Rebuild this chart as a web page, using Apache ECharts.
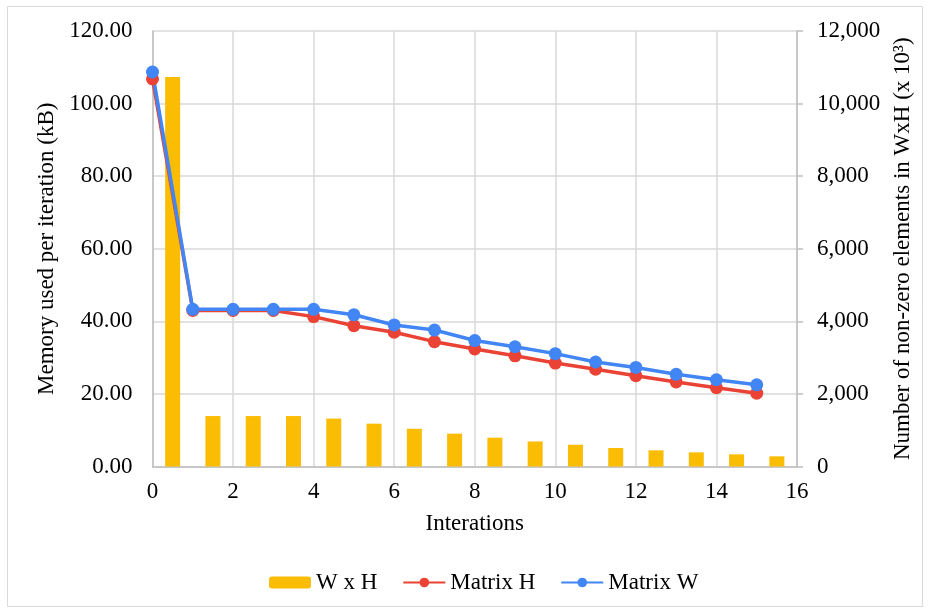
<!DOCTYPE html>
<html><head><meta charset="utf-8">
<script src="https://cdn.jsdelivr.net/npm/echarts@6/dist/echarts.min.js"></script>
<style>html,body{margin:0;padding:0;background:#fff}#c{width:930px;height:615px}</style>
</head><body><div id="c"></div>
<script>
const barX = [0.5,1.5,2.5,3.5,4.5,5.5,6.5,7.5,8.5,9.5,10.5,11.5,12.5,13.5,14.5,15.5];
const wxh = [10730,1390,1390,1390,1320,1180,1040,905,795,690,600,510,445,390,335,280];
const iterations = [0,1,2,3,4,5,6,7,8,9,10,11,12,13,14,15];
const matrixH = [106.8,43.0,43.0,43.0,41.3,38.8,37.0,34.4,32.4,30.5,28.5,26.8,25.0,23.3,21.7,20.2];
const matrixW = [108.7,43.3,43.3,43.3,43.3,41.8,39.0,37.6,34.7,33.0,31.1,28.8,27.3,25.4,23.9,22.5];

const font = 'Liberation Serif';
const fs = 23;
const chart = echarts.init(document.getElementById('c'));
chart.setOption({
  animation: false,
  textStyle: {fontFamily: font},
  graphic: [{type:'rect', shape:{x:7.5,y:6.5,width:915,height:600}, style:{fill:null, stroke:'#d9d9d9', lineWidth:1}, silent:true}],
  grid: {left:152.5, right:133, top:31, bottom:148.5},
  legend: {
    bottom: 16, left: 264, itemGap: 25, itemWidth: 42, itemHeight: 12,
    textStyle: {fontFamily: font, fontSize: fs, color:'#000'},
    data: ['W x H','Matrix H','Matrix W']
  },
  xAxis: {
    type:'value', min:0, max:16, interval:2,
    name:'Interations', nameLocation:'middle', nameGap:46,
    nameTextStyle:{fontFamily:font, fontSize:fs, color:'#000'},
    axisLine:{show:true, lineStyle:{color:'#bfbfbf', width:1.5}},
    axisTick:{show:false},
    axisLabel:{fontFamily:font, fontSize:fs, color:'#000', margin:14},
    splitLine:{show:true, lineStyle:{color:'#d9d9d9', width:1.5}}
  },
  yAxis: [{
    type:'value', min:0, max:120, interval:20, position:'left',
    name:'Memory used per iteration (kB)', nameLocation:'middle', nameGap:91, nameRotate:90,
    nameTextStyle:{fontFamily:font, fontSize:fs, color:'#000'},
    axisLine:{show:true, lineStyle:{color:'#bfbfbf', width:1.5}},
    axisTick:{show:false},
    axisLabel:{fontFamily:font, fontSize:fs, color:'#000', margin:20, formatter: v => v.toFixed(2)},
    splitLine:{show:true, lineStyle:{color:'#d9d9d9', width:1.5}}
  },{
    type:'value', min:0, max:12000, interval:2000, position:'right',
    name:'Number of non-zero elements in WxH (x 10³)', nameLocation:'middle', nameGap:93, nameRotate:90,
    nameTextStyle:{fontFamily:font, fontSize:fs, color:'#000'},
    axisLine:{show:true, lineStyle:{color:'#bfbfbf', width:1.5}},
    axisTick:{show:true, length:6, lineStyle:{color:'#bfbfbf', width:1.5}},
    axisLabel:{fontFamily:font, fontSize:fs, color:'#000', margin:20, formatter: v => v.toLocaleString('en-US')},
    splitLine:{show:false}
  }],
  series: [{
    name:'W x H', type:'bar', yAxisIndex:1, barWidth:15,
    itemStyle:{color:'#FBBC04'},
    data: barX.map((x,i)=>[x, wxh[i]])
  },{
    name:'Matrix H', type:'line', yAxisIndex:0,
    symbol:'circle', symbolSize:13,
    lineStyle:{color:'#EA4335', width:3.5}, itemStyle:{color:'#EA4335'},
    data: iterations.map((x,i)=>[x, matrixH[i]])
  },{
    name:'Matrix W', type:'line', yAxisIndex:0,
    symbol:'circle', symbolSize:13,
    lineStyle:{color:'#4285F4', width:3.5}, itemStyle:{color:'#4285F4'},
    data: iterations.map((x,i)=>[x, matrixW[i]])
  }]
});
</script></body></html>
